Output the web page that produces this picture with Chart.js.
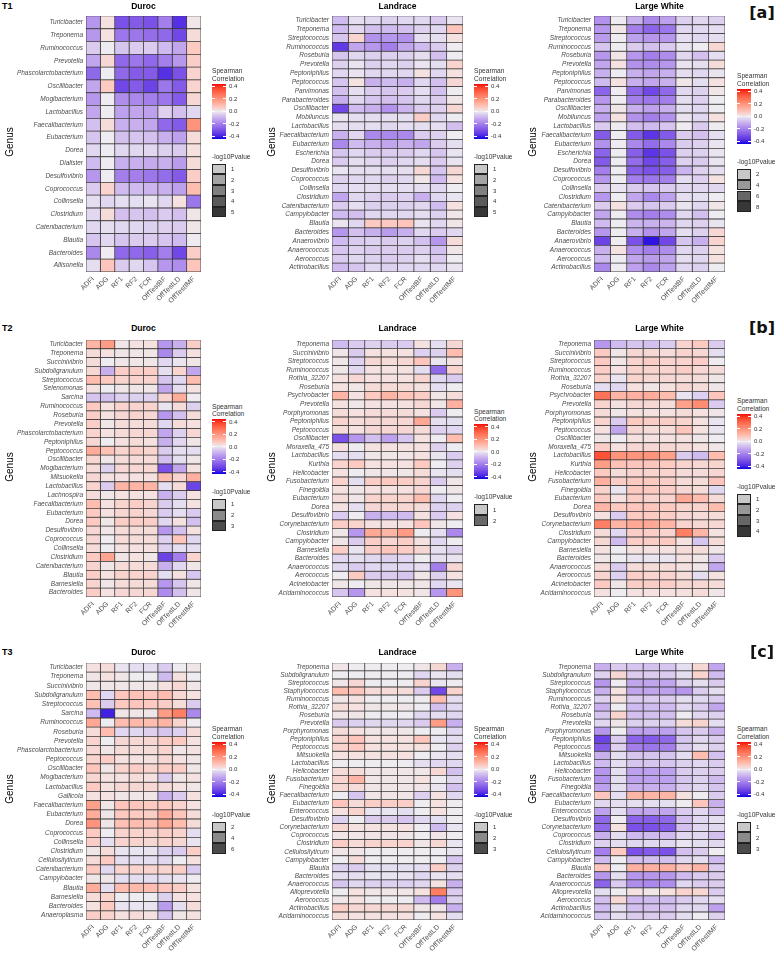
<!DOCTYPE html>
<html><head><meta charset="utf-8">
<script src="https://cdn.jsdelivr.net/npm/chart.js@4.4.0/dist/chart.umd.min.js"></script>
<style>
html,body{margin:0;padding:0;background:#fff;}
body{width:778px;height:955px;position:relative;overflow:hidden;font-family:"Liberation Sans",Arial,sans-serif;}
.t{position:absolute;white-space:nowrap;line-height:1;}
</style></head><body>
<script>
const FONT = '"Liberation Sans", Arial, sans-serif';
const traits = ["ADFI","ADG","RF1","RF2","FCR","OffTestBF","OffTestLD","OffTestIMF"];
const corrTicks = ["0.4","0.2","0.0","-0.2","-0.4"];
const corrTickValues = [0.4,0.2,0,-0.2,-0.4];

// ---------- T1 ----------
const t1DurocGenera = ["Turicibacter","Treponema","Ruminococcus","Prevotella","Phascolarctobacterium","Oscillibacter","Mogibacterium","Lactobacillus","Faecalibacterium","Eubacterium","Dorea","Dialister","Desulfovibrio","Coprococcus","Collinsella","Clostridium","Catenibacterium","Blautia","Bacteroides","Allisonella"];
const t1DurocValues = [
[-0.15,0.02,-0.30,-0.28,-0.30,-0.20,-0.37,0.01],
[-0.15,0.02,-0.22,-0.22,-0.24,-0.25,-0.32,0.03],
[-0.05,0.00,-0.06,-0.05,-0.05,-0.08,-0.12,0.07],
[-0.12,0.04,-0.25,-0.22,-0.25,-0.20,-0.15,0.06],
[-0.25,0.00,-0.25,-0.28,-0.28,-0.37,-0.30,0.05],
[-0.12,0.07,-0.32,-0.28,-0.33,-0.22,-0.28,0.05],
[-0.15,0.00,-0.17,-0.18,-0.20,-0.22,-0.28,0.04],
[-0.12,0.00,-0.13,-0.12,-0.13,-0.04,-0.07,-0.03],
[-0.07,0.03,-0.10,-0.10,-0.12,-0.25,-0.28,0.20],
[-0.06,0.00,-0.07,-0.06,-0.07,-0.10,-0.13,0.03],
[-0.03,0.00,-0.03,-0.03,-0.03,-0.04,-0.05,0.02],
[-0.08,0.00,-0.10,-0.10,-0.11,-0.10,-0.14,0.03],
[-0.15,0.00,-0.20,-0.20,-0.22,-0.24,-0.28,0.06],
[-0.05,0.05,-0.08,-0.08,-0.09,-0.10,-0.13,0.10],
[-0.02,-0.03,-0.02,-0.02,-0.01,-0.03,0.02,-0.22],
[-0.03,0.03,-0.07,-0.06,-0.07,-0.05,-0.07,0.01],
[-0.03,-0.02,-0.03,-0.03,-0.04,-0.04,-0.05,0.01],
[-0.06,-0.03,-0.06,-0.05,-0.05,-0.06,-0.08,0.00],
[-0.18,0.00,-0.25,-0.25,-0.27,-0.20,-0.32,0.06],
[-0.02,0.08,-0.05,-0.03,-0.06,-0.15,-0.17,0.08]];
const t1DurocPLevels = ["1","2","3","4","5"];

const t1LandraceGenera = ["Turicibacter","Treponema","Streptococcus","Ruminococcus","Roseburia","Prevotella","Peptoniphilus","Peptococcus","Parvimonas","Parabacteroides","Oscillibacter","Mobiluncus","Lactobacillus","Faecalibacterium","Eubacterium","Escherichia","Dorea","Desulfovibrio","Coprococcus","Collinsella","Clostridium","Catenibacterium","Campylobacter","Blautia","Bacteroides","Anaerovibrio","Anaerococcus","Aerococcus","Actinobacillus"];
const t1LandraceValues = [
[-0.08,-0.02,-0.03,-0.04,-0.03,-0.03,-0.05,-0.01],
[-0.08,-0.03,-0.07,-0.08,-0.07,-0.04,-0.03,0.08],
[-0.06,0.05,-0.16,-0.15,-0.16,-0.02,-0.02,0.02],
[-0.35,-0.12,-0.15,-0.20,-0.12,-0.08,-0.05,0.00],
[-0.06,-0.03,-0.04,-0.04,-0.04,-0.02,-0.07,0.00],
[-0.04,-0.01,-0.04,-0.03,-0.04,-0.01,-0.02,0.05],
[-0.03,-0.01,-0.03,-0.03,-0.03,0.02,-0.03,0.02],
[-0.06,0.02,-0.10,-0.08,-0.10,-0.03,-0.07,0.04],
[-0.07,-0.02,-0.05,-0.06,-0.05,-0.02,-0.07,0.00],
[-0.10,-0.03,-0.06,-0.07,-0.06,-0.03,-0.05,0.01],
[-0.32,-0.08,-0.10,-0.16,-0.09,-0.05,-0.04,0.04],
[-0.01,-0.02,-0.02,-0.02,-0.02,0.06,-0.03,0.00],
[-0.02,-0.02,-0.02,-0.03,-0.02,-0.02,-0.02,-0.07],
[-0.10,-0.03,-0.18,-0.18,-0.18,-0.05,-0.04,0.00],
[-0.18,-0.08,-0.10,-0.12,-0.10,-0.12,-0.05,-0.02],
[-0.06,-0.03,-0.05,-0.05,-0.05,-0.03,-0.06,-0.01],
[-0.05,-0.02,-0.03,-0.04,-0.03,-0.02,-0.05,-0.01],
[-0.01,-0.02,-0.02,-0.02,-0.02,0.04,-0.06,0.04],
[-0.04,-0.03,-0.03,-0.04,-0.03,0.01,-0.08,0.02],
[-0.03,-0.02,-0.02,-0.02,-0.02,-0.02,-0.03,0.00],
[-0.12,-0.03,-0.04,-0.05,-0.04,-0.10,-0.03,-0.01],
[-0.05,-0.02,-0.04,-0.04,-0.04,-0.03,-0.08,0.02],
[-0.08,-0.07,-0.03,-0.03,-0.03,-0.02,-0.04,0.01],
[-0.01,-0.03,0.07,0.07,0.08,-0.01,-0.03,0.01],
[-0.15,-0.07,-0.10,-0.14,-0.10,-0.03,-0.05,-0.03],
[-0.08,-0.05,-0.04,-0.05,-0.04,-0.07,-0.15,0.03],
[-0.06,-0.04,-0.05,-0.05,-0.05,-0.04,-0.07,0.01],
[-0.05,-0.03,-0.04,-0.05,-0.04,-0.02,-0.05,0.00],
[-0.08,-0.06,-0.03,-0.04,-0.03,-0.03,-0.03,-0.01]];
const t1LandracePLevels = ["1","2","3","4","5"];

const t1LargeWhiteGenera = t1LandraceGenera.slice();
const t1LargeWhiteValues = [
[-0.16,0.00,-0.10,-0.18,-0.13,-0.04,-0.03,-0.04],
[-0.15,0.01,-0.20,-0.26,-0.22,-0.03,-0.03,-0.02],
[-0.14,0.00,-0.13,-0.15,-0.15,-0.02,-0.03,-0.02],
[-0.06,0.00,-0.05,-0.07,-0.05,-0.01,0.00,0.04],
[-0.15,0.01,-0.15,-0.20,-0.17,-0.03,-0.07,-0.02],
[-0.12,0.02,-0.16,-0.17,-0.15,-0.01,-0.02,0.03],
[-0.10,0.00,-0.10,-0.12,-0.10,-0.02,-0.03,-0.01],
[-0.08,0.02,-0.10,-0.12,-0.10,0.01,-0.02,0.02],
[-0.26,0.00,-0.25,-0.32,-0.25,-0.03,-0.04,0.01],
[-0.15,0.00,-0.20,-0.22,-0.20,-0.02,-0.04,0.00],
[-0.10,0.01,-0.10,-0.13,-0.10,-0.02,-0.03,0.00],
[-0.13,0.02,-0.16,-0.20,-0.16,-0.01,-0.03,0.02],
[-0.05,0.00,-0.07,-0.08,-0.06,0.00,-0.05,0.00],
[-0.28,0.00,-0.28,-0.36,-0.28,-0.05,-0.07,-0.02],
[-0.16,0.00,-0.18,-0.24,-0.18,-0.05,-0.04,-0.01],
[-0.26,0.00,-0.27,-0.36,-0.30,-0.04,-0.04,-0.01],
[-0.28,0.00,-0.24,-0.32,-0.27,-0.04,-0.05,-0.01],
[-0.20,0.00,-0.27,-0.30,-0.27,-0.09,-0.04,-0.02],
[-0.15,0.00,-0.20,-0.22,-0.20,-0.02,-0.04,0.02],
[-0.05,-0.01,-0.05,-0.06,-0.05,-0.03,-0.03,-0.03],
[-0.15,0.00,-0.12,-0.18,-0.13,-0.02,-0.02,0.00],
[-0.05,0.02,-0.05,-0.06,-0.05,-0.01,-0.03,0.01],
[-0.12,0.00,-0.17,-0.20,-0.17,-0.03,-0.07,0.00],
[-0.08,0.00,-0.09,-0.10,-0.09,-0.03,-0.04,-0.01],
[-0.15,0.00,-0.10,-0.16,-0.12,-0.02,-0.04,0.04],
[-0.33,0.00,-0.30,-0.42,-0.32,-0.06,-0.10,0.05],
[-0.10,0.02,-0.17,-0.20,-0.17,-0.03,-0.04,0.02],
[-0.08,0.00,-0.12,-0.14,-0.12,-0.02,-0.03,0.02],
[-0.18,0.00,-0.13,-0.18,-0.13,-0.03,-0.04,0.00]];
const t1LargeWhitePLevels = ["2","4","6","8"];

// ---------- T2 ----------
const t2DurocGenera = ["Turicibacter","Treponema","Succinivibrio","Subdoligranulum","Streptococcus","Selenomonas","Sarcina","Ruminococcus","Roseburia","Prevotella","Phascolarctobacterium","Peptoniphilus","Peptococcus","Oscillibacter","Mogibacterium","Mitsuokella","Lactobacillus","Lachnospira","Faecalibacterium","Eubacterium","Dorea","Desulfovibrio","Coprococcus","Collinsella","Clostridium","Catenibacterium","Blautia","Barnesiella","Bacteroides"];
const t2DurocValues = [
[0.12,0.18,0.01,0.02,0.02,-0.15,-0.10,0.06],
[0.03,0.02,0.01,0.01,0.01,-0.18,-0.05,0.02],
[0.03,0.00,0.01,0.01,0.01,-0.03,-0.01,0.01],
[0.04,-0.10,0.06,0.06,0.06,-0.02,0.05,-0.12],
[0.10,0.07,0.05,0.05,0.05,-0.06,-0.03,0.10],
[0.02,0.00,0.01,0.01,0.01,-0.12,-0.02,0.02],
[-0.06,-0.07,-0.04,-0.04,-0.04,0.05,0.14,0.00],
[0.07,0.02,0.05,0.05,0.05,-0.01,0.03,-0.04],
[0.06,0.02,0.04,0.05,0.04,-0.15,-0.07,0.03],
[0.06,0.01,0.03,0.03,0.03,-0.03,0.03,0.02],
[0.05,0.02,0.03,0.04,0.04,-0.12,-0.04,0.04],
[0.04,0.00,0.02,0.03,0.02,-0.10,-0.03,0.01],
[0.14,0.09,0.05,0.06,0.05,-0.05,-0.02,-0.02],
[0.04,0.01,0.03,0.03,0.03,-0.07,-0.02,0.01],
[0.03,-0.04,0.04,0.04,0.04,-0.30,-0.12,0.02],
[0.04,0.02,0.02,0.02,0.02,0.10,0.05,0.13],
[0.05,-0.05,0.12,0.12,0.12,-0.02,0.03,-0.33],
[0.03,0.01,0.02,0.02,0.02,-0.10,-0.05,0.02],
[0.10,0.02,0.05,0.06,0.05,-0.05,-0.02,0.02],
[0.07,0.02,0.04,0.05,0.04,-0.05,-0.02,-0.05],
[0.07,0.01,0.06,0.06,0.06,-0.03,0.02,-0.07],
[0.04,0.01,0.03,0.03,0.03,-0.15,-0.07,0.02],
[0.04,0.00,0.03,0.03,0.03,-0.04,0.08,-0.03],
[0.03,0.00,0.02,0.02,0.02,-0.04,-0.02,-0.02],
[0.07,0.16,0.01,0.02,0.01,-0.33,-0.20,0.05],
[0.05,0.01,0.03,0.03,0.03,-0.10,-0.03,0.01],
[0.06,0.02,0.05,0.05,0.05,-0.02,0.02,-0.06],
[0.05,0.01,0.03,0.03,0.03,-0.15,-0.06,0.01],
[0.06,0.02,0.04,0.04,0.04,-0.17,-0.07,0.01]];
const t2DurocPLevels = ["1","2","3"];

const t2LandraceGenera = ["Treponema","Succinivibrio","Streptococcus","Ruminococcus","Rothia_32207","Roseburia","Psychrobacter","Prevotella","Porphyromonas","Peptoniphilus","Peptococcus","Oscillibacter","Moraxella_475","Lactobacillus","Kurthia","Helicobacter","Fusobacterium","Finegoldia","Eubacterium","Dorea","Desulfovibrio","Corynebacterium","Clostridium","Campylobacter","Barnesiella","Bacteroides","Anaerococcus","Aerococcus","Acinetobacter","Acidaminococcus"];
const t2LandraceValues = [
[-0.08,-0.05,-0.04,-0.05,-0.05,0.02,-0.02,0.04],
[0.01,-0.05,0.02,0.02,0.02,-0.04,-0.04,0.10],
[0.01,-0.04,0.04,0.03,0.04,0.08,-0.01,0.02],
[0.01,-0.03,0.02,0.02,0.02,-0.02,-0.25,0.05],
[0.02,0.04,0.02,0.02,0.02,0.05,-0.03,-0.05],
[0.02,0.01,0.03,0.03,0.03,0.02,-0.02,0.00],
[0.12,0.02,0.07,0.12,0.08,0.06,0.01,0.03],
[0.02,0.01,0.02,0.02,0.02,0.04,0.01,0.13],
[0.03,0.02,0.03,0.03,0.03,0.02,-0.05,0.00],
[0.05,0.03,0.04,0.04,0.04,0.15,-0.02,-0.02],
[0.03,0.02,0.04,0.04,0.04,0.03,-0.04,-0.03],
[-0.30,-0.15,-0.07,-0.13,-0.06,0.02,0.00,0.10],
[0.02,0.00,0.02,0.02,0.02,0.02,-0.04,0.00],
[-0.02,-0.02,0.01,0.01,0.01,0.02,-0.01,-0.05],
[0.05,0.07,0.02,0.02,0.02,0.07,0.00,-0.04],
[0.02,0.00,0.01,0.01,0.01,0.03,-0.01,-0.02],
[0.05,-0.02,0.06,0.07,0.06,0.05,-0.05,0.01],
[0.02,0.01,0.02,0.02,0.02,0.04,0.00,0.01],
[0.03,0.01,0.05,0.05,0.05,0.10,-0.03,0.00],
[0.02,-0.02,0.04,0.04,0.04,0.03,-0.04,-0.04],
[-0.05,0.00,-0.10,-0.08,-0.08,0.02,-0.05,0.02],
[0.06,0.05,0.02,0.02,0.02,0.08,0.01,0.00],
[0.01,-0.15,0.15,0.12,0.18,0.00,-0.02,-0.18],
[0.01,-0.05,0.06,0.04,0.06,0.02,-0.03,0.00],
[0.06,-0.01,0.06,0.08,0.06,0.04,-0.02,-0.04],
[-0.03,-0.02,-0.03,-0.04,-0.03,0.00,-0.02,-0.01],
[-0.03,-0.05,-0.03,-0.03,-0.03,-0.02,-0.20,0.04],
[0.00,0.07,-0.05,-0.05,-0.06,0.01,-0.04,0.02],
[0.01,0.00,0.01,0.01,0.01,0.01,-0.03,-0.01],
[-0.06,-0.15,0.02,0.02,0.02,0.01,-0.15,0.20]];
const t2LandracePLevels = ["1","2"];

const t2LargeWhiteGenera = t2LandraceGenera.slice();
const t2LargeWhiteValues = [
[-0.15,-0.08,-0.06,-0.07,-0.05,0.05,0.07,-0.05],
[0.07,0.01,0.04,0.04,0.03,0.05,0.04,-0.02],
[0.07,0.01,0.05,0.06,0.05,0.05,0.06,0.00],
[0.06,0.02,0.05,0.05,0.05,0.06,0.04,0.03],
[0.05,-0.01,0.05,0.04,0.04,0.03,0.03,0.01],
[-0.02,-0.03,0.02,0.01,0.02,0.04,0.03,0.01],
[0.28,0.12,0.13,0.14,0.10,-0.01,-0.04,0.08],
[0.05,0.02,0.04,0.04,0.03,0.17,0.22,-0.05],
[0.03,0.01,0.02,0.02,0.02,0.03,0.02,0.01],
[0.05,-0.05,0.07,0.06,0.06,0.05,0.02,-0.01],
[0.02,-0.12,0.04,0.03,0.03,0.08,0.02,-0.01],
[0.01,0.00,0.02,0.02,0.02,0.02,0.01,0.00],
[0.06,0.02,0.04,0.04,0.04,0.03,0.02,0.01],
[0.35,0.20,0.20,0.20,0.17,-0.05,-0.08,0.10],
[0.18,0.09,0.08,0.08,0.07,0.05,0.04,0.05],
[0.07,0.03,0.05,0.05,0.05,0.03,0.03,0.04],
[0.13,0.06,0.07,0.07,0.06,0.03,0.03,0.08],
[0.05,-0.01,0.07,0.07,0.06,0.04,0.03,-0.03],
[0.07,0.02,0.06,0.05,0.05,0.15,0.10,0.03],
[0.12,0.07,0.08,0.08,0.07,0.05,0.05,0.10],
[0.02,-0.05,0.07,0.07,0.06,0.04,0.03,0.03],
[0.25,0.12,0.15,0.15,0.12,0.05,0.04,0.04],
[0.03,-0.03,0.06,0.06,0.05,0.25,0.12,0.02],
[0.04,-0.08,0.06,0.06,0.07,0.02,-0.06,0.03],
[0.02,0.00,0.02,0.02,0.02,0.03,0.03,0.01],
[0.01,0.00,-0.01,-0.01,-0.01,0.02,0.01,-0.05],
[0.03,-0.05,0.03,0.03,0.03,0.02,0.01,-0.12],
[0.05,-0.04,0.06,0.05,0.05,0.03,-0.02,0.02],
[0.07,0.01,0.06,0.06,0.06,0.04,0.04,0.03],
[0.02,0.00,0.02,0.02,0.02,0.02,0.03,0.01]];
const t2LargeWhitePLevels = ["1","2","3","4"];

// ---------- T3 ----------
const t3DurocGenera = ["Turicibacter","Treponema","Succinivibrio","Subdoligranulum","Streptococcus","Sarcina","Ruminococcus","Roseburia","Prevotella","Phascolarctobacterium","Peptococcus","Oscillibacter","Mogibacterium","Lactobacillus","Gallicola","Faecalibacterium","Eubacterium","Dorea","Coprococcus","Collinsella","Clostridium","Cellulosilyticum","Catenibacterium","Campylobacter","Blautia","Barnesiella","Bacteroides","Anaeroplasma"];
const t3DurocValues = [
[0.02,0.03,-0.01,-0.02,-0.02,-0.05,0.00,0.01],
[0.01,0.02,0.01,0.00,0.00,-0.08,0.02,0.00],
[0.01,0.01,0.01,0.01,0.01,0.02,0.04,0.01],
[0.10,-0.03,0.08,0.09,0.08,0.10,0.04,0.02],
[0.09,-0.05,0.07,0.08,0.07,0.06,0.03,-0.05],
[-0.08,-0.40,0.01,0.01,0.01,0.18,0.25,-0.18],
[0.15,0.00,0.10,0.11,0.10,0.12,0.05,0.00],
[0.03,0.10,-0.03,-0.03,-0.04,-0.06,-0.04,0.03],
[0.05,0.00,0.04,0.04,0.04,0.06,0.07,0.02],
[0.04,0.01,0.03,0.03,0.03,0.05,0.01,0.02],
[0.05,0.06,0.02,0.02,0.02,0.04,0.02,0.01],
[0.08,0.01,0.05,0.06,0.05,0.06,0.06,0.01],
[0.04,0.02,0.02,0.03,0.02,-0.05,0.01,0.02],
[0.07,0.02,0.04,0.04,0.04,0.03,0.02,0.01],
[0.02,0.02,0.01,0.01,0.01,-0.10,-0.05,0.02],
[0.17,0.01,0.08,0.08,0.07,0.07,0.05,0.02],
[0.14,0.01,0.07,0.07,0.06,0.14,0.08,0.03],
[0.20,0.01,0.09,0.10,0.09,0.15,0.10,0.03],
[0.07,0.00,0.05,0.05,0.05,0.06,0.05,-0.02],
[0.06,-0.02,0.05,0.05,0.04,0.05,0.04,-0.01],
[0.01,0.03,-0.01,-0.01,-0.01,-0.04,-0.05,0.06],
[0.03,0.07,-0.02,-0.02,-0.02,-0.03,0.00,0.02],
[0.07,-0.03,0.05,0.05,0.05,0.05,0.06,-0.05],
[0.01,0.01,-0.02,-0.02,-0.02,-0.02,-0.01,0.00],
[0.14,-0.02,0.10,0.11,0.10,0.08,0.06,0.02],
[0.03,0.05,0.00,0.00,0.00,-0.04,0.02,0.02],
[0.02,0.07,-0.01,-0.01,-0.01,-0.14,-0.02,0.03],
[0.06,0.05,0.02,0.03,0.02,-0.06,0.01,0.02]];
const t3DurocPLevels = ["2","4","6"];

const t3LandraceGenera = ["Treponema","Subdoligranulum","Streptococcus","Staphylococcus","Ruminococcus","Rothia_32207","Roseburia","Prevotella","Porphyromonas","Peptoniphilus","Peptococcus","Mitsuokella","Lactobacillus","Helicobacter","Fusobacterium","Finegoldia","Faecalibacterium","Eubacterium","Enterococcus","Desulfovibrio","Corynebacterium","Coprococcus","Clostridium","Cellulosilyticum","Campylobacter","Blautia","Bacteroides","Anaerococcus","Alloprevotella","Aerococcus","Actinobacillus","Acidaminococcus"];
const t3LandraceValues = [
[0.01,0.00,0.00,0.00,0.00,0.01,0.04,-0.10],
[0.00,0.00,0.00,0.00,0.00,-0.03,-0.01,-0.02],
[0.01,0.04,0.00,0.00,0.00,0.05,-0.01,0.00],
[0.10,0.08,0.03,0.03,0.03,-0.05,-0.32,0.05],
[0.01,0.02,0.00,0.00,0.00,0.00,0.10,-0.02],
[0.03,0.02,0.01,0.01,0.01,0.00,-0.07,-0.03],
[0.01,0.01,0.00,0.00,0.00,-0.03,-0.02,-0.03],
[-0.05,-0.04,-0.03,-0.03,-0.03,-0.05,0.18,-0.10],
[0.03,0.02,0.01,0.01,0.01,0.00,0.00,-0.03],
[0.05,0.08,0.02,0.02,0.02,0.08,-0.01,-0.02],
[0.05,0.07,0.02,0.02,0.02,0.02,0.00,-0.04],
[0.02,0.02,0.02,0.02,0.02,0.00,-0.01,-0.02],
[0.00,0.00,0.00,0.00,0.00,-0.02,-0.03,-0.03],
[0.03,0.03,0.01,0.01,0.01,0.01,0.04,-0.07],
[0.05,0.12,0.01,0.01,0.01,0.02,0.00,-0.03],
[0.04,0.03,0.01,0.01,0.01,0.01,-0.01,-0.07],
[0.00,-0.06,0.01,0.01,0.01,-0.04,0.02,-0.03],
[0.08,0.03,0.06,0.06,0.06,0.00,0.02,0.00],
[0.02,0.05,-0.01,-0.01,-0.02,0.00,0.02,0.00],
[-0.04,0.00,-0.05,-0.05,-0.06,-0.03,-0.02,0.00],
[0.04,0.02,0.02,0.02,0.02,0.00,-0.08,-0.01],
[0.01,0.01,0.01,0.01,0.01,0.00,0.01,0.00],
[0.06,0.03,0.05,0.05,0.05,0.01,0.04,-0.01],
[0.01,0.01,0.00,0.00,0.00,0.00,0.00,-0.01],
[0.00,0.03,0.00,0.00,0.00,0.00,0.00,-0.06],
[-0.04,-0.05,-0.02,-0.02,-0.02,-0.02,0.06,-0.04],
[-0.02,-0.02,-0.01,-0.01,-0.01,-0.03,-0.01,-0.02],
[-0.06,-0.03,-0.04,-0.04,-0.04,-0.03,0.02,-0.10],
[0.00,0.02,0.01,0.01,0.01,0.02,0.25,-0.05],
[0.01,0.02,0.00,0.00,0.00,-0.08,-0.20,-0.04],
[0.06,0.04,0.04,0.04,0.04,0.01,0.01,-0.10],
[0.03,0.02,0.02,0.02,0.02,0.00,0.02,-0.02]];
const t3LandracePLevels = ["1","2","3"];

const t3LargeWhiteGenera = t3LandraceGenera.slice();
const t3LargeWhiteValues = [
[-0.10,-0.05,-0.06,-0.07,-0.06,-0.02,0.04,-0.12],
[-0.04,0.04,-0.05,-0.05,-0.05,-0.02,0.05,-0.08],
[-0.15,0.00,-0.12,-0.12,-0.12,-0.04,-0.02,-0.05],
[-0.10,0.02,-0.12,-0.12,-0.13,-0.15,-0.05,-0.02],
[-0.04,0.02,-0.05,-0.05,-0.05,-0.02,-0.03,-0.05],
[-0.10,0.00,-0.08,-0.08,-0.08,-0.03,-0.05,-0.12],
[-0.06,0.05,-0.07,-0.07,-0.07,0.00,-0.03,-0.04],
[-0.03,0.01,-0.04,-0.04,-0.04,0.03,0.05,-0.02],
[-0.15,0.00,-0.13,-0.13,-0.13,-0.06,-0.05,-0.10],
[-0.33,-0.05,-0.26,-0.28,-0.25,-0.06,-0.03,-0.05],
[-0.28,-0.04,-0.20,-0.22,-0.20,-0.05,-0.02,-0.04],
[-0.10,-0.02,-0.06,-0.06,-0.06,-0.02,0.10,-0.07],
[-0.08,-0.02,-0.06,-0.06,-0.06,-0.04,-0.03,-0.05],
[-0.15,-0.02,-0.13,-0.13,-0.13,-0.05,-0.04,-0.05],
[-0.16,-0.02,-0.13,-0.13,-0.13,-0.06,-0.04,-0.08],
[-0.13,-0.02,-0.10,-0.10,-0.10,-0.05,-0.03,-0.06],
[0.08,-0.02,0.12,0.12,0.12,0.02,0.00,-0.05],
[-0.03,-0.02,-0.02,-0.02,-0.02,0.00,0.08,-0.10],
[-0.13,-0.02,-0.12,-0.12,-0.12,-0.05,-0.03,-0.07],
[-0.25,0.00,-0.26,-0.27,-0.25,-0.07,-0.03,-0.02],
[-0.25,0.02,-0.30,-0.30,-0.28,-0.07,-0.03,-0.03],
[-0.10,-0.02,-0.08,-0.08,-0.08,-0.03,-0.03,-0.07],
[-0.04,-0.02,-0.03,-0.03,-0.03,-0.01,-0.02,-0.03],
[-0.20,0.07,-0.30,-0.28,-0.30,-0.07,-0.05,0.00],
[-0.08,0.00,-0.07,-0.07,-0.07,-0.03,-0.02,-0.08],
[0.08,0.00,0.13,0.13,0.13,0.08,0.12,-0.05],
[-0.15,-0.02,-0.15,-0.15,-0.15,-0.08,-0.05,-0.05],
[-0.26,-0.05,-0.17,-0.18,-0.17,-0.03,-0.05,-0.05],
[-0.02,0.00,0.02,0.01,0.02,0.05,0.04,-0.05],
[-0.07,0.04,-0.08,-0.08,-0.08,-0.05,-0.03,-0.02],
[-0.08,-0.02,-0.07,-0.07,-0.07,-0.03,-0.03,-0.13],
[-0.06,-0.02,-0.05,-0.05,-0.05,-0.02,0.00,-0.04]];
const t3LargeWhitePLevels = ["1","2","3"];

const breeds = ["Duroc","Landrace","Large White"];
const timepoints = ["T1","T2","T3"];
const panelTags = ["[a]","[b]","[c]"];

// ---------- colour scale (Lab interpolation, blue - light grey - red) ----------
const LIMIT = 0.44;
function s2l(c){c/=255;return c<=0.04045?c/12.92:Math.pow((c+0.055)/1.055,2.4);}
function l2s(c){c=c<=0.0031308?12.92*c:1.055*Math.pow(c,1/2.4)-0.055;return Math.round(Math.max(0,Math.min(1,c))*255);}
function rgb2lab(rgb){const r=s2l(rgb[0]),g=s2l(rgb[1]),b=s2l(rgb[2]);
  let x=(r*0.4124+g*0.3576+b*0.1805)/0.95047,y=(r*0.2126+g*0.7152+b*0.0722),z=(r*0.0193+g*0.1192+b*0.9505)/1.08883;
  const f=t=>t>0.008856?Math.cbrt(t):7.787*t+16/116;x=f(x);y=f(y);z=f(z);
  return [116*y-16,500*(x-y),200*(y-z)];}
function lab2rgb(lab){let y=(lab[0]+16)/116,x=lab[1]/500+y,z=y-lab[2]/200;
  const fi=t=>t*t*t>0.008856?t*t*t:(t-16/116)/7.787;
  x=fi(x)*0.95047;y=fi(y);z=fi(z)*1.08883;
  return [l2s(x*3.2406+y*-1.5372+z*-0.4986),l2s(x*-0.9689+y*1.8758+z*0.0415),l2s(x*0.0557+y*-0.2040+z*1.0570)];}
const LAB_LOW=rgb2lab([10,0,225]), LAB_MID=rgb2lab([238,236,240]), LAB_HIGH=rgb2lab([245,10,10]);
function corrColor(v){
  let t=Math.max(-1,Math.min(1,v/LIMIT));
  const end=t<0?LAB_LOW:LAB_HIGH; t=Math.pow(Math.abs(t),0.88);
  const lab=[0,1,2].map(k=>LAB_MID[k]+(end[k]-LAB_MID[k])*t);
  const c=lab2rgb(lab);return `rgb(${c[0]},${c[1]},${c[2]})`;
}

// ---------- layout ----------
const colX = [{pl:86,pr:201,genus:10,leg:212},{pl:332,pr:463,genus:272,leg:474},{pl:594,pr:725,genus:533,leg:737}];
const rowY = [{pt:12.5,pb:271.5,title:6},{pt:337,pb:596.5,title:328},{pt:659.5,pb:919,title:652}];
const panelData = [
 [[t1DurocGenera,t1DurocValues,t1DurocPLevels],[t1LandraceGenera,t1LandraceValues,t1LandracePLevels],[t1LargeWhiteGenera,t1LargeWhiteValues,t1LargeWhitePLevels]],
 [[t2DurocGenera,t2DurocValues,t2DurocPLevels],[t2LandraceGenera,t2LandraceValues,t2LandracePLevels],[t2LargeWhiteGenera,t2LargeWhiteValues,t2LargeWhitePLevels]],
 [[t3DurocGenera,t3DurocValues,t3DurocPLevels],[t3LandraceGenera,t3LandraceValues,t3LandracePLevels],[t3LargeWhiteGenera,t3LargeWhiteValues,t3LargeWhitePLevels]]
];

function txt(s,x,y,css,align){
  const d=document.createElement('div');d.className='t';d.textContent=s;
  d.style.left=x+'px';d.style.top=y+'px';
  const tx=align==='center'?'-50%':(align==='right'?'-100%':'0');
  d.style.transform=`translate(${tx},-50%)`+(css.rot?` rotate(${css.rot}deg)`:'');
  Object.keys(css).forEach(k=>{if(k!=='rot')d.style[k]=css[k];});
  document.body.appendChild(d);return d;
}

function legend(x,centerY,levels){
  const n=levels.length, total=97+10.8*n, top=centerY-total/2;
  txt("Spearman",x,top+4.5,{fontSize:'6.6px',color:'#333'},'left');
  txt("Correlation",x,top+12,{fontSize:'6.6px',color:'#333'},'left');
  const bar=document.createElement('div');
  const stops=[];for(let i=0;i<=20;i++){const v=LIMIT-(2*LIMIT)*i/20;stops.push(`${corrColor(v)} ${(i*5)}%`);}
  Object.assign(bar.style,{position:'absolute',left:x+'px',top:(top+17)+'px',width:'14px',height:'55px',background:`linear-gradient(to bottom, ${stops.join(',')})`});
  document.body.appendChild(bar);
  corrTickValues.forEach((v,i)=>{
    const yy=top+17+55*(LIMIT-v)/(2*LIMIT);
    [0,11].forEach(ox=>{const m=document.createElement('div');Object.assign(m.style,{position:'absolute',left:(x+ox)+'px',top:(yy-0.5)+'px',width:'3px',height:'1px',background:'#fff'});document.body.appendChild(m);});
    txt(corrTicks[i],x+17,yy,{fontSize:'6px',color:'#333'},'left');
  });
  txt("-log10Pvalue",x,top+90,{fontSize:'6.6px',color:'#333'},'left');
  levels.forEach((lv,i)=>{
    const g=Math.round(200-(i/(Math.max(1,n-1)))*(n>=4?145:(n===3?125:95)));
    const b=document.createElement('div');
    Object.assign(b.style,{position:'absolute',left:x+'px',top:(top+97+10.8*i)+'px',width:'14px',height:'10.8px',boxSizing:'border-box',background:`rgb(${g},${g},${g})`,border:'1px solid #222'});
    document.body.appendChild(b);
    txt(lv,x+19,top+97+10.8*i+5.4,{fontSize:'6px',color:'#333'},'left');
  });
}

function makePanel(genera,values,pl,pr,pt,pb){
  const yW=86,padT=4,padR=8,xH=40;
  const w=Math.round(yW+(pr-pl)+padR), h=Math.round(padT+(pb-pt)+xH);
  const c=document.createElement('canvas');
  c.width=w;c.height=h;
  Object.assign(c.style,{position:'absolute',left:(pl-yW)+'px',top:(pt-padT)+'px',width:w+'px',height:h+'px'});
  document.body.appendChild(c);
  const datasets=traits.map((t,j)=>({
    label:t,data:genera.map(()=>1),
    backgroundColor:values.map(r=>corrColor(r[j])),
    borderColor:'#3a3a3a',borderWidth:0.75,borderSkipped:false,
    barPercentage:1,categoryPercentage:1
  }));
  new Chart(c,{type:'bar',data:{labels:genera,datasets},
    options:{indexAxis:'y',responsive:false,animation:false,devicePixelRatio:1,
      layout:{padding:{top:padT,right:padR,left:0,bottom:0}},
      plugins:{legend:{display:false},tooltip:{enabled:false},title:{display:false}},
      scales:{
        x:{type:'linear',stacked:true,min:0,max:8,
          grid:{display:false,drawTicks:false},border:{display:false},
          afterBuildTicks:s=>{s.ticks=traits.map((t,i)=>({value:i+0.5}));},
          afterFit:s=>{s.height=xH;},
          ticks:{autoSkip:false,maxRotation:45,minRotation:45,padding:3,color:'#4d4d4d',
            font:{family:FONT,size:7},callback:v=>traits[Math.floor(v)]}},
        y:{type:'category',stacked:true,offset:true,
          grid:{display:false,drawTicks:false},border:{display:false},
          afterFit:s=>{s.width=yW;},
          ticks:{autoSkip:false,padding:3,color:'#4d4d4d',font:{family:FONT,size:6.5,style:'italic'}}}
      }}});
}

rowY.forEach((r,ri)=>{
  txt(timepoints[ri],2,r.title,{fontSize:'9px',fontWeight:'bold',color:'#000'},'left');
  txt(panelTags[ri],762,r.title+(ri===0?7:0),{fontSize:'16px',fontWeight:'bold',color:'#111',fontFamily:'"DejaVu Sans", sans-serif'},'center');
  colX.forEach((cx,ci)=>{
    const [genera,values,plev]=panelData[ri][ci];
    makePanel(genera,values,cx.pl,cx.pr,r.pt,r.pb);
    txt(breeds[ci],(cx.pl+cx.pr)/2,r.title,{fontSize:'8.5px',fontWeight:'bold',color:'#000'},'center');
    txt("Genus",cx.genus,(r.pt+r.pb)/2,{fontSize:'10px',color:'#000',rot:-90},'center');
    legend(cx.leg,(r.pt+r.pb)/2,plev);
  });
});
</script>
</body></html>
